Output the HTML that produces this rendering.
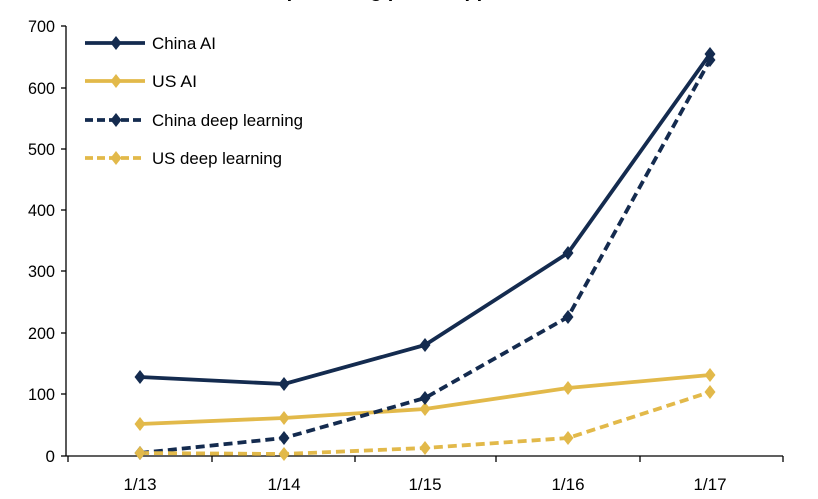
<!DOCTYPE html>
<html><head><style>body{margin:0;background:#fff}svg{display:block}</style></head>
<body>
<svg width="818" height="499" xmlns="http://www.w3.org/2000/svg" font-family="Liberation Sans, Arial, sans-serif">
<rect width="818" height="499" fill="#fff"/>
<text x="410" y="-3" font-size="20" font-weight="bold" text-anchor="middle" fill="#000">Deep learning patent applications</text>
<g stroke="#000" stroke-width="1.3">
<line x1="66" y1="26" x2="66" y2="456"/>
<line x1="66" y1="456" x2="783" y2="456"/>
<line x1="61" y1="26" x2="66" y2="26"/><line x1="61" y1="88" x2="66" y2="88"/><line x1="61" y1="149" x2="66" y2="149"/><line x1="61" y1="210" x2="66" y2="210"/><line x1="61" y1="271" x2="66" y2="271"/><line x1="61" y1="333" x2="66" y2="333"/><line x1="61" y1="394" x2="66" y2="394"/><line x1="61" y1="456" x2="66" y2="456"/>
<line x1="68" y1="456" x2="68" y2="462"/><line x1="212" y1="456" x2="212" y2="462"/><line x1="355" y1="456" x2="355" y2="462"/><line x1="496" y1="456" x2="496" y2="462"/><line x1="640" y1="456" x2="640" y2="462"/><line x1="783" y1="456" x2="783" y2="462"/>
</g>
<g font-size="17" fill="#000" text-anchor="end">
<text x="55" y="32" textLength="27" lengthAdjust="spacingAndGlyphs">700</text><text x="55" y="94" textLength="27" lengthAdjust="spacingAndGlyphs">600</text><text x="55" y="155" textLength="27" lengthAdjust="spacingAndGlyphs">500</text><text x="55" y="216" textLength="27" lengthAdjust="spacingAndGlyphs">400</text><text x="55" y="277" textLength="27" lengthAdjust="spacingAndGlyphs">300</text><text x="55" y="339" textLength="27" lengthAdjust="spacingAndGlyphs">200</text><text x="55" y="400" textLength="27" lengthAdjust="spacingAndGlyphs">100</text><text x="55" y="462">0</text>
</g>
<g font-size="17" fill="#000" text-anchor="middle">
<text x="140" y="490">1/13</text><text x="284" y="490">1/14</text><text x="425" y="490">1/15</text><text x="568" y="490">1/16</text><text x="710" y="490">1/17</text>
</g>
<defs>
<path id="dn" d="M0,-7 L5.5,0 L0,7 L-5.5,0Z" fill="#142b4f"/>
<path id="dy" d="M0,-7 L5.5,0 L0,7 L-5.5,0Z" fill="#e2b94a"/>
</defs>
<g fill="none" stroke-width="3.8" stroke-linejoin="round">
<polyline stroke="#142b4f" points="140,377 284,384 425,345 568,253 710,54"/>
<polyline stroke="#e2b94a" points="140,424 284,418 425,409 568,388 710,375"/>
<polyline stroke="#142b4f" stroke-dasharray="9,5" points="140,453 284,438 425,398 568,317 710,60"/>
<polyline stroke="#e2b94a" stroke-dasharray="9,5" points="140,453 284,454 425,448 568,438 710,392"/>
</g>
<g>
<use href="#dn" x="140" y="377"/><use href="#dn" x="284" y="384"/><use href="#dn" x="425" y="345"/><use href="#dn" x="568" y="253"/><use href="#dn" x="710" y="54"/>
<use href="#dy" x="140" y="424"/><use href="#dy" x="284" y="418"/><use href="#dy" x="425" y="409"/><use href="#dy" x="568" y="388"/><use href="#dy" x="710" y="375"/>
<use href="#dn" x="140" y="453"/><use href="#dn" x="284" y="438"/><use href="#dn" x="425" y="398"/><use href="#dn" x="568" y="317"/><use href="#dn" x="710" y="60"/>
<use href="#dy" x="140" y="453"/><use href="#dy" x="284" y="454"/><use href="#dy" x="425" y="448"/><use href="#dy" x="568" y="438"/><use href="#dy" x="710" y="392"/>
</g>
<g stroke-width="3.8">
<line x1="85" y1="43" x2="145" y2="43" stroke="#142b4f"/><use href="#dn" x="116" y="43"/>
<line x1="85" y1="81" x2="145" y2="81" stroke="#e2b94a"/><use href="#dy" x="116" y="81"/>
<line x1="85" y1="120" x2="145" y2="120" stroke="#142b4f" stroke-dasharray="8,4"/><use href="#dn" x="116" y="120"/>
<line x1="85" y1="158" x2="145" y2="158" stroke="#e2b94a" stroke-dasharray="8,4"/><use href="#dy" x="116" y="158"/>
</g>
<g font-size="17" fill="#000">
<text x="152" y="49" textLength="64" lengthAdjust="spacingAndGlyphs">China AI</text>
<text x="152" y="87" textLength="45" lengthAdjust="spacingAndGlyphs">US AI</text>
<text x="152" y="126" textLength="151" lengthAdjust="spacingAndGlyphs">China deep learning</text>
<text x="152" y="164" textLength="130" lengthAdjust="spacingAndGlyphs">US deep learning</text>
</g>
</svg>
</body></html>
